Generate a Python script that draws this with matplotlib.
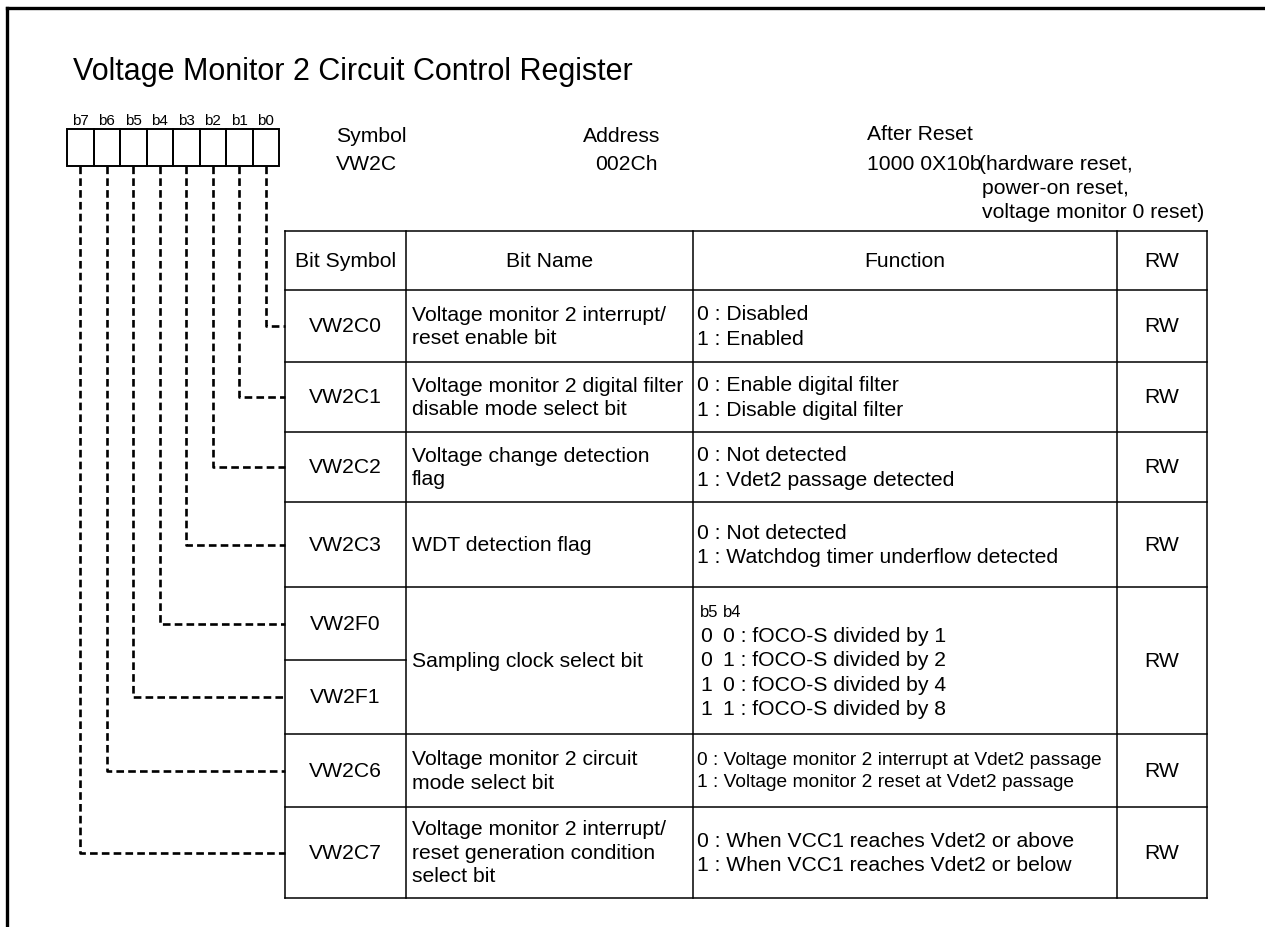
# -*- coding: utf-8 -*-
"""
Register layout drawing: Voltage Monitor 2 Circuit Control Register (VW2C).
Everything is drawn on one axes in pixel coordinates (y grows downwards).
"""

import matplotlib
matplotlib.use('Agg')
import matplotlib.pyplot as plt

plt.rcParams['font.family'] = ['Liberation Sans', 'DejaVu Sans']
plt.rcParams['lines.scale_dashes'] = False

# ---- data -------------------------------------------------------------
title = 'Voltage Monitor 2 Circuit Control Register'
bit_labels = ['b7', 'b6', 'b5', 'b4', 'b3', 'b2', 'b1', 'b0']

symbol_name = 'VW2C'
address = '002Ch'
after_reset = '1000 0X10b'
reset_note = ['(hardware reset,', 'power-on reset,', 'voltage monitor 0 reset)']

headers = ['Bit Symbol', 'Bit Name', 'Function', 'RW']

# one entry per table row, top to bottom
bit_symbols = ['VW2C0', 'VW2C1', 'VW2C2', 'VW2C3', 'VW2F0', 'VW2F1', 'VW2C6', 'VW2C7']
bit_index = [0, 1, 2, 3, 4, 5, 6, 7]   # which bit box feeds each row

# bit name / function / RW cells (VW2F0 and VW2F1 share one cell)
bit_names = [
    'Voltage monitor 2 interrupt/\nreset enable bit',
    'Voltage monitor 2 digital filter\ndisable mode select bit',
    'Voltage change detection\nflag',
    'WDT detection flag',
    'Sampling clock select bit',
    'Voltage monitor 2 circuit\nmode select bit',
    'Voltage monitor 2 interrupt/\nreset generation condition\nselect bit',
]
functions = [
    '0 : Disabled\n1 : Enabled',
    '0 : Enable digital filter\n1 : Disable digital filter',
    '0 : Not detected\n1 : Vdet2 passage detected',
    '0 : Not detected\n1 : Watchdog timer underflow detected',
    None,
    '0 : Voltage monitor 2 interrupt at Vdet2 passage\n1 : Voltage monitor 2 reset at Vdet2 passage',
    '0 : When VCC1 reaches Vdet2 or above\n1 : When VCC1 reaches Vdet2 or below',
]
rw = ['RW', 'RW', 'RW', 'RW', 'RW', 'RW', 'RW']

sampling_bits = ['b5', 'b4']
sampling_b5 = ['0', '0', '1', '1']
sampling_b4 = ['0', '1', '0', '1']
sampling_text = ['fOCO-S divided by 1', 'fOCO-S divided by 2',
                 'fOCO-S divided by 4', 'fOCO-S divided by 8']

# ---- layout (pixels) ----------------------------------------------------
W, H = 1265, 928
FS = 15.2

box_left, box_top, box_bottom, box_w = 67, 130, 167, 26.5
col_x = [285, 406, 693, 1117, 1207]
head_top, head_bottom = 232, 291
row_edges = [291, 363, 433, 503, 588, 661, 735, 808, 899]
# bit-symbol rows merged into the other columns: (first row, last row)
merged = [(0, 0), (1, 1), (2, 2), (3, 3), (4, 5), (6, 6), (7, 7)]

fig = plt.figure(figsize=(W / 100, H / 100), dpi=100)
ax = fig.add_axes([0, 0, 1, 1])
ax.set_xlim(0, W)
ax.set_ylim(H, 0)
ax.axis('off')

# outer frame (only top and left are inside the picture)
ax.plot([7, W + 5], [9, 9], color='black', lw=2.4, solid_capstyle='projecting')
ax.plot([7, 7], [9, H + 5], color='black', lw=2.4, solid_capstyle='projecting')

ax.text(73, 72, title, fontsize=22, va='center', ha='left')

# bit boxes
for i, lab in enumerate(bit_labels):
    x0 = box_left + i * box_w
    ax.add_patch(plt.Rectangle((x0, box_top), box_w, box_bottom - box_top,
                               fill=False, lw=1.4, ec='black'))
    ax.text(x0 + box_w / 2, box_top - 9, lab, fontsize=11,
            ha='center', va='center')

# header block
ax.text(336, 137, 'Symbol', fontsize=FS, va='center')
ax.text(336, 164, symbol_name, fontsize=FS, va='center')
ax.text(583, 137, 'Address', fontsize=FS, va='center')
ax.text(595, 164, address, fontsize=FS, va='center')
ax.text(867, 135, 'After Reset', fontsize=FS, va='center')
ax.text(867, 165, after_reset, fontsize=FS, va='center')
for k, line in enumerate(reset_note):
    ax.text(979 if k == 0 else 982, 164 + k * 24, line, fontsize=FS, va='center')

# table grid
lw_t = 1.1
top, bot = head_top, row_edges[-1]
ax.plot([col_x[0], col_x[-1]], [top, top], color='black', lw=lw_t)
for x in col_x:
    ax.plot([x, x], [top, bot], color='black', lw=lw_t)
ax.plot([col_x[0], col_x[-1]], [head_bottom, head_bottom], color='black', lw=lw_t)
for r, y in enumerate(row_edges[1:], start=1):
    inner = any(a < r <= b for a, b in merged)
    x_end = col_x[1] if inner else col_x[-1]
    ax.plot([col_x[0], x_end], [y, y], color='black', lw=lw_t)

# header labels
hy = (head_top + head_bottom) / 2
for j, h in enumerate(headers):
    ax.text((col_x[j] + col_x[j + 1]) / 2, hy, h, fontsize=FS,
            ha='center', va='center')

# bit symbol column and dashed leader lines from the bit boxes
for r, sym in enumerate(bit_symbols):
    yc = (row_edges[r] + row_edges[r + 1]) / 2
    ax.text((col_x[0] + col_x[1]) / 2, yc, sym, fontsize=FS,
            ha='center', va='center')
    b = bit_index[r]
    xb = box_left + (7 - b) * box_w + box_w / 2
    ax.plot([xb, xb, col_x[0]], [box_bottom, yc, yc], color='black',
            lw=1.9, dashes=(5.5, 3))

# bit name / function / RW cells
for m, (a, b) in enumerate(merged):
    yc = (row_edges[a] + row_edges[b + 1]) / 2
    ax.text(col_x[1] + 6, yc, bit_names[m], fontsize=FS, ha='left',
            va='center', linespacing=1.3)
    ax.text((col_x[3] + col_x[4]) / 2, yc, rw[m], fontsize=FS,
            ha='center', va='center')
    if functions[m] is not None:
        fs = 13.8 if m == 5 else FS
        ax.text(col_x[2] + 4, yc, functions[m], fontsize=fs, ha='left',
                va='center', linespacing=1.35)
    else:
        ax.text(700, yc - 49, sampling_bits[0], fontsize=12, va='center')
        ax.text(723, yc - 49, sampling_bits[1], fontsize=12, va='center')
        for k in range(4):
            yy = yc - 25 + k * 24.5
            ax.text(700, yy, sampling_b5[k], fontsize=FS, va='center')
            ax.text(723, yy, sampling_b4[k] + ' : ' + sampling_text[k],
                    fontsize=FS, va='center')

fig.savefig('out.png', dpi=100)
